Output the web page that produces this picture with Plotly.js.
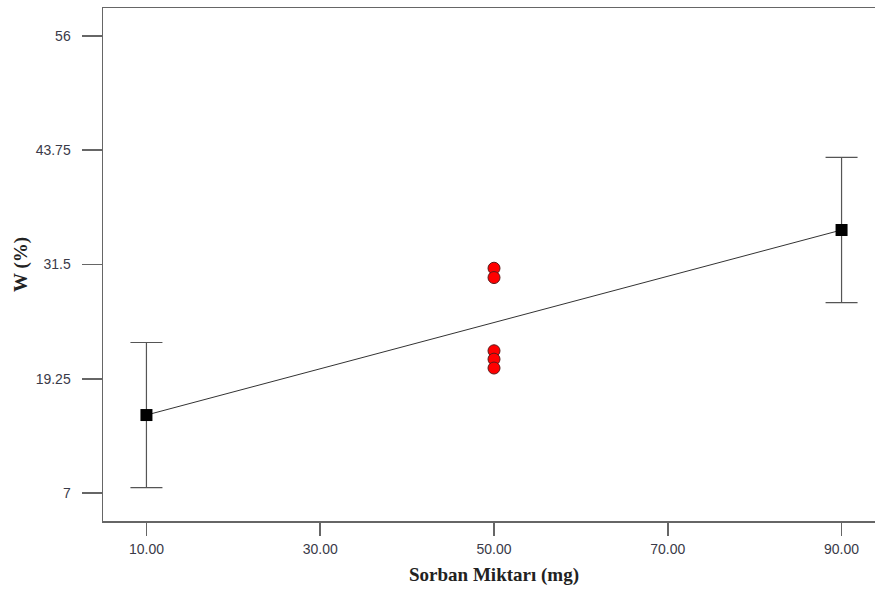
<!DOCTYPE html>
<html><head><meta charset="utf-8">
<script src="https://cdn.plot.ly/plotly-3.0.1.min.js"></script>
<style>html,body{margin:0;padding:0;overflow:hidden;background:#fff;width:875px;height:593px}</style>
</head><body><div id="chart"></div>
<script>
const factorX = [10, 90];
const predictedW = [15.36, 35.2];
const ciHalf = [7.78, 7.78];
const designX = [50, 50, 50, 50, 50];
const designW = [31.1, 30.1, 22.25, 21.35, 20.4];
const xTickVals = [10, 30, 50, 70, 90];
const xTickText = ["10.00", "30.00", "50.00", "70.00", "90.00"];
const yTickVals = [7, 19.25, 31.5, 43.75, 56];
const yTickText = ["7", "19.25", "31.5", "43.75", "56"];

const traces = [
  {x: factorX, y: predictedW, type: 'scatter', mode: 'lines',
   line: {color: '#333', width: 1}, hoverinfo: 'skip', showlegend: false},
  {x: factorX, y: predictedW, type: 'scatter', mode: 'markers',
   marker: {symbol: 'square', size: 12, color: '#000'},
   error_y: {type: 'data', array: ciHalf, visible: true, color: '#555', thickness: 1.2, width: 16},
   showlegend: false},
  {x: designX, y: designW, type: 'scatter', mode: 'markers',
   marker: {symbol: 'circle', size: 12, color: '#ff0000', line: {color: '#5a1a1a', width: 1}},
   showlegend: false}
];

const layout = {
  width: 890, height: 593,
  margin: {l: 103, r: 5, t: 8, b: 72},
  paper_bgcolor: '#fff', plot_bgcolor: '#fff',
  xaxis: {range: [5, 95], tickvals: xTickVals, ticktext: xTickText,
    showgrid: false, zeroline: false, showline: true, mirror: true,
    linecolor: '#666', linewidth: 1.5, ticks: 'outside', ticklen: 13, tickcolor: '#666', tickwidth: 1.5,
    ticklabelstandoff: 2,
    tickfont: {family: 'Liberation Sans, Arial, sans-serif', size: 14, color: '#3a3a48'},
    title: {text: 'Sorban Miktarı (mg)', standoff: 11,
      font: {family: 'Liberation Serif, Times New Roman, serif', size: 19, color: '#222', weight: 'bold'}}},
  yaxis: {range: [4, 59], tickvals: yTickVals, ticktext: yTickText,
    showgrid: false, zeroline: false, showline: true, mirror: true,
    linecolor: '#666', linewidth: 1.5, ticks: 'outside', ticklen: 20, tickcolor: '#666', tickwidth: 1.5,
    ticklabelstandoff: 8,
    tickfont: {family: 'Liberation Sans, Arial, sans-serif', size: 14, color: '#3a3a48'},
    title: {text: 'W (%)', standoff: 3,
      font: {family: 'Liberation Serif, Times New Roman, serif', size: 19, color: '#222', weight: 'bold'}}}
};
Plotly.newPlot('chart', traces, layout, {displayModeBar: false, staticPlot: true});
</script></body></html>
